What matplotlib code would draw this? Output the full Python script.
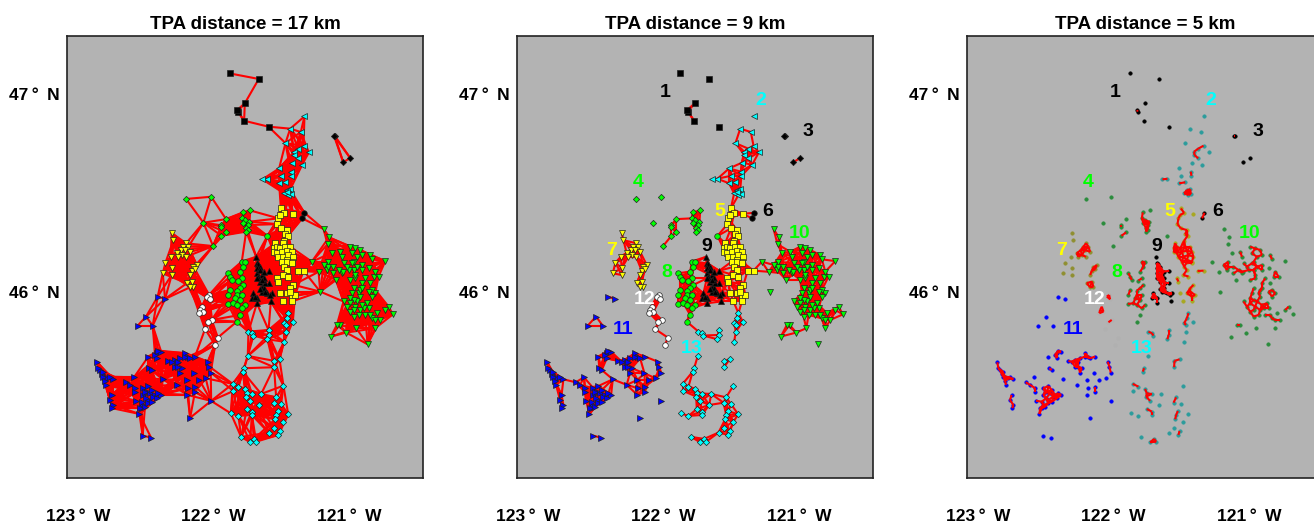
import numpy as np
import matplotlib
matplotlib.use('Agg')
import matplotlib.pyplot as plt
from matplotlib.collections import LineCollection

plt.rcParams['font.family'] = ['Liberation Sans', 'DejaVu Sans']

# station positions (degrees)
g1_lon = [-121.881, -121.667, -121.770, -121.822, -121.827, -121.775, -121.595]
g1_lat = [47.104, 47.076, 46.953, 46.911, 46.919, 46.865, 46.835]
g2_lon = [-121.330, -121.435, -121.357, -121.470, -121.337, -121.376, -121.406, -121.298, -121.404,
          -121.376, -121.423, -121.347, -121.517, -121.431, -121.504, -121.426, -121.603, -121.640,
          -121.517, -121.472, -121.460, -121.435, -121.480, -121.448, -121.431, -121.460]
g2_lat = [46.887, 46.825, 46.808, 46.752, 46.739, 46.724, 46.709, 46.705, 46.692,
          46.675, 46.653, 46.643, 46.624, 46.608, 46.587, 46.587, 46.572, 46.569,
          46.549, 46.554, 46.515, 46.518, 46.498, 46.490, 46.495, 46.503]
g3_lon = [-121.108, -121.113, -120.993, -121.044]
g3_lat = [46.790, 46.790, 46.677, 46.655]
g4_lon = [-122.203, -122.018, -122.075, -121.908, -121.942, -121.942, -121.908, -121.942, -122.004,
          -121.785, -121.731, -121.792, -121.768, -121.736, -121.780, -121.743, -121.763, -121.750, -121.760]
g4_lat = [46.470, 46.481, 46.350, 46.368, 46.337, 46.330, 46.301, 46.284, 46.232,
          46.402, 46.412, 46.372, 46.363, 46.355, 46.347, 46.338, 46.325, 46.313, 46.305]
g5_lon = [-121.504, -121.480, -121.418, -121.522, -121.509, -121.529, -121.504, -121.460, -121.472,
          -121.455, -121.546, -121.480, -121.490, -121.558, -121.534, -121.509, -121.472, -121.435,
          -121.558, -121.534, -121.497, -121.460, -121.423, -121.522, -121.485, -121.448, -121.411,
          -121.423, -121.460, -121.497, -121.460, -121.423, -121.480, -121.460, -121.485, -121.448,
          -121.381, -121.337, -121.534, -121.522, -121.411, -121.435, -121.509, -121.460, -121.423,
          -121.399, -121.485, -121.423, -121.435]
g5_lat = [46.422, 46.400, 46.395, 46.372, 46.389, 46.343, 46.321, 46.313, 46.291,
          46.284, 46.246, 46.259, 46.246, 46.220, 46.229, 46.220, 46.229, 46.229,
          46.203, 46.198, 46.203, 46.209, 46.203, 46.178, 46.178, 46.187, 46.178,
          46.153, 46.162, 46.154, 46.149, 46.145, 46.128, 46.111, 46.086, 46.078,
          46.106, 46.108, 46.069, 46.053, 46.036, 46.019, 45.994, 45.994, 45.977,
          45.985, 45.952, 45.952, 46.002]
g6_lon = [-121.330, -121.347]
g6_lat = [46.400, 46.372]
g7_lon = [-122.309, -122.296, -122.203, -122.186, -122.223, -122.242, -122.210, -122.173, -122.272,
          -122.235, -122.260, -122.203, -122.316, -122.355, -122.309, -122.375, -122.309, -122.124,
          -122.149, -122.161, -122.173, -122.137, -122.198, -122.161, -122.149, -122.173]
g7_lat = [46.298, 46.262, 46.246, 46.229, 46.229, 46.212, 46.212, 46.203, 46.195,
          46.187, 46.178, 46.178, 46.178, 46.148, 46.121, 46.094, 46.086, 46.136,
          46.124, 46.107, 46.086, 46.114, 46.044, 46.053, 46.027, 46.024]
g8_lon = [-121.792, -121.768, -121.780, -121.804, -121.891, -121.878, -121.866, -121.792, -121.817,
          -121.780, -121.804, -121.829, -121.878, -121.891, -121.829, -121.792, -121.841, -121.804,
          -121.895, -121.854, -121.829, -121.768, -121.792, -121.804, -121.829, -121.603]
g8_lat = [46.154, 46.149, 46.128, 46.103, 46.095, 46.078, 46.061, 46.069, 46.058,
          46.036, 46.019, 46.007, 46.010, 45.985, 45.985, 45.985, 45.968, 45.960,
          45.940, 45.943, 45.935, 45.935, 45.918, 45.884, 45.850, 46.283]
g9_lon = [-121.686, -121.590, -121.681, -121.664, -121.669, -121.681, -121.657, -121.681, -121.645,
          -121.632, -121.657, -121.645, -121.627, -121.595, -121.571, -121.645, -121.706, -121.681,
          -121.681, -121.578, -121.718, -121.694, -121.657, -121.632, -121.669, -121.620, -121.681,
          -121.645, -121.608, -121.583, -121.657, -121.620]
g9_lat = [46.178, 46.107, 46.145, 46.119, 46.142, 46.120, 46.128, 46.095, 46.086,
          46.069, 46.053, 46.027, 46.019, 46.044, 45.994, 46.002, 45.994, 45.968,
          45.943, 45.952, 45.968, 45.977, 46.111, 46.103, 46.078, 46.044, 46.069,
          46.061, 45.994, 45.985, 46.014, 46.002]
g10_lon = [-121.189, -121.150, -121.160, -121.276, -121.226, -120.734, -121.128, -121.066, -120.993,
           -120.956, -120.919, -120.845, -120.833, -121.153, -121.054, -121.042, -120.980, -120.943,
           -120.907, -120.968, -120.907, -121.165, -121.116, -121.054, -120.968, -121.153, -121.047,
           -121.096, -120.980, -120.968, -120.907, -120.820, -120.784, -120.993, -120.956, -120.907,
           -120.845, -120.808, -120.968, -120.980, -121.214, -121.042, -120.993, -120.919, -120.857,
           -120.796, -120.968, -120.894, -120.710, -120.734, -120.678, -120.771, -120.833, -120.808,
           -120.948, -121.071, -121.091, -121.022, -121.135, -120.865, -120.943, -120.907, -120.968,
           -120.956, -120.931, -120.919, -120.993, -120.882, -120.833, -120.993, -120.956, -121.017,
           -120.931, -120.882, -120.845, -120.808, -120.870, -120.968, -120.919, -120.857, -120.833,
           -120.907, -121.005, -120.943, -120.857, -120.808, -121.116, -121.079, -121.017, -121.189]
g10_lat = [46.318, 46.276, 46.241, 46.153, 46.102, 46.156, 46.198, 46.203, 46.229,
           46.220, 46.212, 46.187, 46.165, 46.153, 46.178, 46.145, 46.195, 46.178,
           46.187, 46.153, 46.136, 46.111, 46.094, 46.097, 46.111, 46.128, 46.103,
           46.061, 46.145, 46.111, 46.111, 46.078, 46.078, 46.061, 46.069, 46.044,
           46.044, 45.994, 46.019, 45.994, 46.002, 45.952, 45.901, 45.909, 45.918,
           45.893, 45.876, 45.918, 45.926, 45.909, 45.887, 45.859, 45.867, 45.817,
           45.817, 45.834, 45.834, 45.795, 45.775, 45.736, 45.952, 45.935, 45.960,
           46.086, 45.994, 46.010, 45.968, 46.069, 46.010, 45.943, 45.926, 45.926,
           45.884, 45.884, 45.884, 45.859, 45.943, 45.909, 45.977, 46.002, 45.977,
           46.019, 46.111, 46.128, 46.120, 46.103, 46.128, 46.111, 46.128, 46.137]
g11_lon = [-122.412, -122.358, -122.498, -122.560, -122.449, -122.857, -122.838, -122.825, -122.801,
           -122.776, -122.739, -122.793, -122.752, -122.764, -122.739, -122.747, -122.481, -122.419,
           -122.387, -122.419, -122.474, -122.456, -122.333, -122.284, -122.272, -122.247, -122.284,
           -122.235, -122.247, -122.210, -122.186, -122.137, -122.043, -122.031, -122.021, -122.141,
           -122.058, -122.105, -122.193, -122.272, -122.375, -122.587, -122.648, -122.616, -122.579,
           -122.579, -122.518, -122.481, -122.488, -122.518, -122.469, -122.432, -122.387, -122.481,
           -122.518, -122.481, -122.530, -122.572, -122.547, -122.137, -122.137, -122.191, -122.193,
           -122.018, -122.173, -122.523, -122.461, -122.818, -122.850, -122.813, -122.764, -122.801,
           -122.506, -122.456, -122.444, -122.419, -122.498, -122.530, -122.456, -122.506, -122.542,
           -122.407, -122.309, -122.260, -122.260, -122.210, -122.173, -122.432, -122.407]
g11_lat = [45.977, 45.965, 45.876, 45.830, 45.830, 45.645, 45.606, 45.586, 45.573,
           45.564, 45.559, 45.531, 45.480, 45.455, 45.429, 45.413, 45.674, 45.691,
           45.699, 45.665, 45.615, 45.606, 45.652, 45.657, 45.640, 45.665, 45.623,
           45.615, 45.593, 45.691, 45.674, 45.674, 45.648, 45.623, 45.593, 45.589,
           45.564, 45.556, 45.556, 45.531, 45.559, 45.569, 45.544, 45.531, 45.514,
           45.493, 45.514, 45.525, 45.497, 45.480, 45.488, 45.480, 45.480, 45.455,
           45.429, 45.438, 45.413, 45.451, 45.384, 45.522, 45.497, 45.514, 45.480,
           45.450, 45.365, 45.275, 45.264, 45.598, 45.615, 45.573, 45.569, 45.552,
           45.497, 45.505, 45.472, 45.463, 45.463, 45.446, 45.446, 45.421, 45.413,
           45.488, 45.648, 45.648, 45.623, 45.674, 45.665, 45.682, 45.704]
g12_lon = [-122.033, -122.050, -122.026, -122.087, -122.100, -122.075, -122.105, -122.014, -122.038,
           -122.063, -121.969, -121.989]
g12_lat = [45.985, 45.977, 45.963, 45.926, 45.909, 45.901, 45.893, 45.859, 45.847,
           45.813, 45.770, 45.733]
g13_lon = [-121.448, -121.460, -121.480, -121.465, -121.416, -121.467, -121.480, -121.743, -121.718,
           -121.706, -121.595, -121.595, -121.603, -121.748, -121.775, -121.785, -121.551, -121.514,
           -121.554, -121.859, -121.817, -121.854, -121.768, -121.755, -121.718, -121.760, -121.731,
           -121.649, -121.539, -121.558, -121.502, -121.664, -121.755, -121.718, -121.718, -121.526,
           -121.539, -121.546, -121.873, -121.817, -121.450, -121.485, -121.485, -121.558, -121.514,
           -121.522, -121.595, -121.797, -121.731, -121.701, -121.686]
g13_lat = [45.893, 45.867, 45.842, 45.834, 45.850, 45.800, 45.749, 45.800, 45.792,
           45.780, 45.808, 45.783, 45.761, 45.677, 45.615, 45.598, 45.652, 45.660,
           45.620, 45.536, 45.522, 45.500, 45.510, 45.488, 45.485, 45.472, 45.450,
           45.485, 45.468, 45.441, 45.433, 45.429, 45.409, 45.396, 45.379, 45.399,
           45.379, 45.357, 45.387, 45.374, 45.382, 45.345, 45.527, 45.315, 45.298,
           45.278, 45.290, 45.268, 45.241, 45.258, 45.244]

all_lon = [g1_lon, g2_lon, g3_lon, g4_lon, g5_lon, g6_lon, g7_lon, g8_lon, g9_lon, g10_lon, g11_lon, g12_lon, g13_lon]
all_lat = [g1_lat, g2_lat, g3_lat, g4_lat, g5_lat, g6_lat, g7_lat, g8_lat, g9_lat, g10_lat, g11_lat, g12_lat, g13_lat]

group_names = ['1', '2', '3', '4', '5', '6', '7', '8', '9', '10', '11', '12', '13']
name_lon = [-121.986, -121.283, -120.936, -122.186, -121.583, -121.236, -122.387, -121.974, -121.684, -120.995, -122.301, -122.144, -121.792]
name_lat = [47.008, 46.968, 46.810, 46.554, 46.406, 46.406, 46.212, 46.100, 46.229, 46.293, 45.813, 45.960, 45.716]

markers = ['s', '<', 'D', 'D', 's', 'o', 'v', 'o', '^', 'v', '>', 'o', 'D']
colors = ['black', '#00ffff', 'black', '#00ff00', '#ffff00', 'black', '#ffff00', '#00ff00', 'black', '#00ff00', '#0000ff', 'white', '#00ffff']
name_colors = ['black', '#00ffff', 'black', '#00ff00', '#ffff00', 'black', '#ffff00', '#00ff00', 'black', '#00ff00', '#0000ff', 'white', '#00ffff']
dim_colors = ['black', '#2b9c9c', 'black', '#2a8c3c', '#a8a820', 'black', '#8f8f30', '#2a8c3c', 'black', '#2a8c3c', '#0000ff', '#b0b0b0', '#2b9c9c']

titles = ['TPA distance = 17 km', 'TPA distance = 9 km', 'TPA distance = 5 km']
link_km = [17, 9, 3.6]
lefts = [67, 517, 967]

lon = np.concatenate(all_lon)
lat = np.concatenate(all_lat)


def links(dist):
    # all station pairs closer than dist
    dx = (lon[:, None] - lon[None, :]) * 76.8
    dy = (lat[:, None] - lat[None, :]) * 111.0
    d = np.hypot(dx, dy)
    i, j = np.where(np.triu(d < dist, 1))
    return [[(lon[a], lat[a]), (lon[b], lat[b])] for a, b in zip(i, j)]


fig = plt.figure(figsize=(13.14, 5.27), dpi=100)
for k in range(3):
    ax = fig.add_axes([lefts[k] / 1314, (527 - 478.3) / 527, 356 / 1314, 442.3 / 527])
    ax.set_facecolor('#b3b3b3')
    ax.set_xlim(-123.081, -120.456)
    ax.set_ylim(45.059, 47.293)
    ax.add_collection(LineCollection(links(link_km[k]), colors='#ff0000', linewidths=1.5,
                                     zorder=3 if k == 2 else 1))
    for g in range(13):
        if k < 2:
            ax.plot(all_lon[g], all_lat[g], ls='none', marker=markers[g], ms=4.0 if markers[g] != 'D' else 3.2,
                    mfc=colors[g], mec='#222222', mew=0.5, zorder=2)
        else:
            ax.plot(all_lon[g], all_lat[g], ls='none', marker='o', ms=2.6,
                    mfc=dim_colors[g], mec=dim_colors[g], mew=0.3, zorder=2)
        if k > 0:
            ax.text(name_lon[g], name_lat[g], group_names[g], color=name_colors[g], fontsize=14,
                    fontweight='bold', ha='center', va='center', zorder=5, clip_on=False)
    ax.set_title(titles[k], fontsize=13.5, fontweight='bold', pad=5)
    ax.set_xticks([-123, -122, -121])
    ax.set_xticklabels(['123\u2009°\u2009 W', '122\u2009°\u2009 W', '121\u2009°\u2009 W'], fontsize=12.5, fontweight='bold')
    ax.set_yticks([46, 47])
    ax.set_yticklabels(['46\u2009°\u2009 N', '47\u2009°\u2009 N'], fontsize=12.5, fontweight='bold')
    ax.tick_params(axis='x', length=0, pad=22)
    ax.tick_params(axis='y', length=0, pad=5)
    for s in ax.spines.values():
        s.set_linewidth(1.2)
        s.set_color('#222222')

fig.savefig('out.png', dpi=100)
